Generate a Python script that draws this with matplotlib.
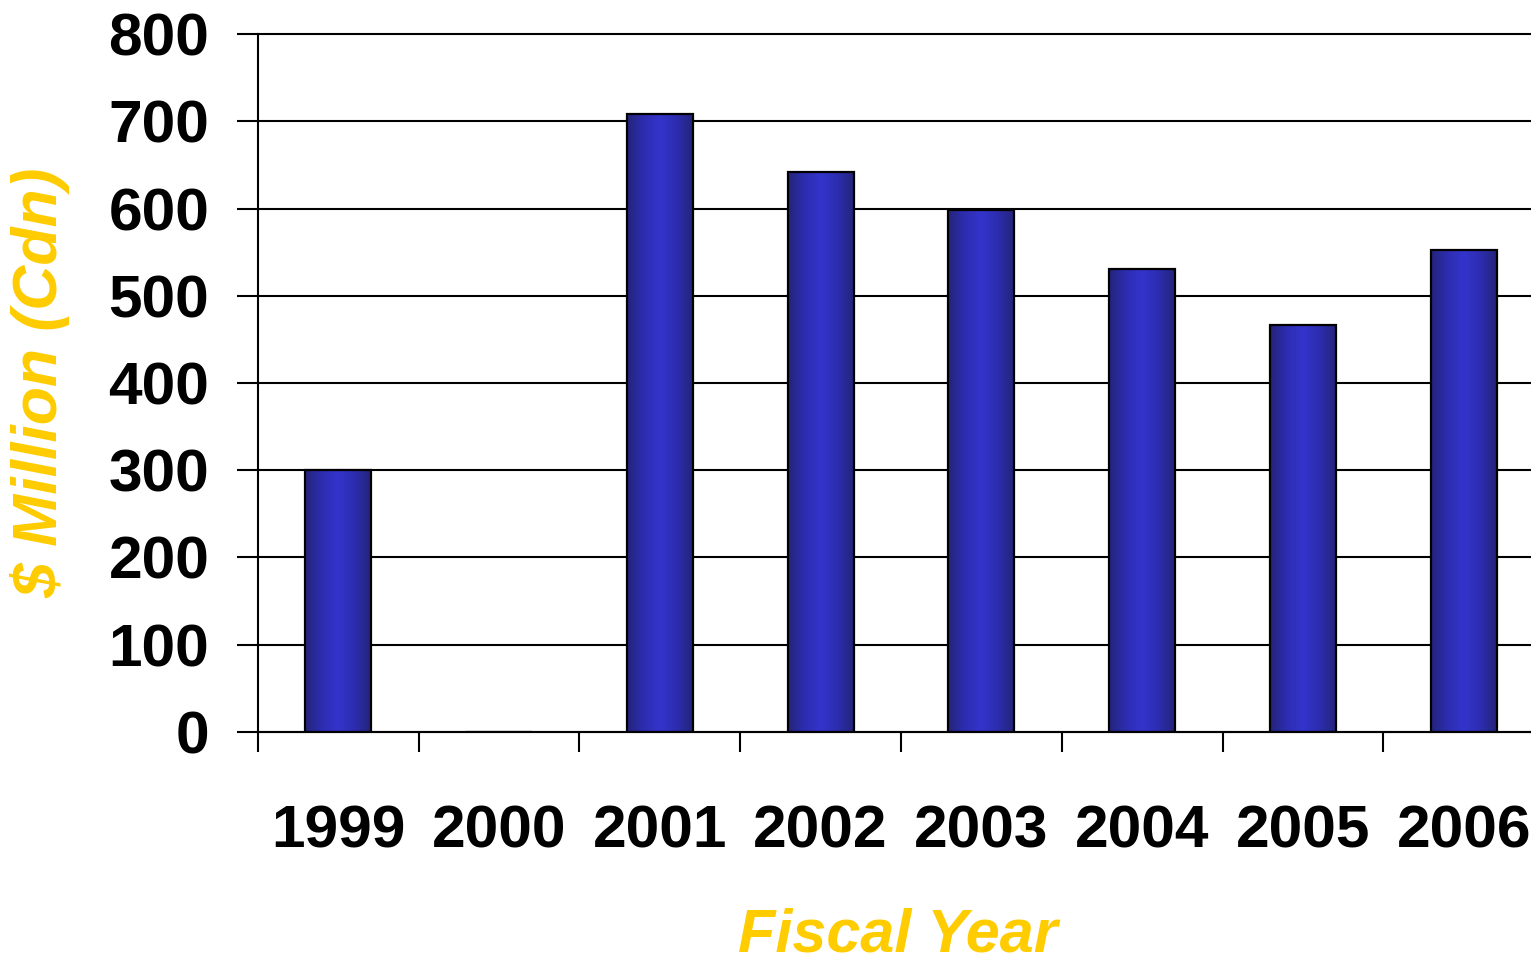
import matplotlib
matplotlib.use("Agg")
import matplotlib.pyplot as plt
import numpy as np
from matplotlib.colors import LinearSegmentedColormap

years = ["1999", "2000", "2001", "2002", "2003", "2004", "2005", "2006"]
spending = [300, 0, 708, 642, 598, 531, 466, 553]
y_ticks = [0, 100, 200, 300, 400, 500, 600, 700, 800]

plt.rcParams["font.family"] = ["Liberation Sans", "DejaVu Sans"]

fig = plt.figure(figsize=(15.31, 9.64), dpi=100)
ax = fig.add_axes([0.1685, 0.2407, 0.840, 0.724])

x = np.arange(len(years))
bars = ax.bar(x, spending, width=0.41, color="none", edgecolor="black",
              linewidth=1.6, zorder=3)

# horizontal shading: dark edges, bright middle
shade = LinearSegmentedColormap.from_list(
    "shade", ["#24247a", "#2d2db0", "#3434cc", "#2d2db0", "#24247a"])
grad = np.linspace(0, 1, 256).reshape(1, -1)
for b in bars:
    if b.get_height() <= 0:
        continue
    im = ax.imshow(grad, cmap=shade, aspect="auto", zorder=2,
                   extent=[b.get_x(), b.get_x() + b.get_width(), 0, b.get_height()])
    im.set_clip_path(b)

ax.set_xlim(-0.5, len(years) - 0.5)
ax.set_ylim(0, 800)
ax.set_yticks(y_ticks)
ax.set_yticklabels([str(v) for v in y_ticks], fontsize=43.5, fontweight="bold")
ax.set_xticks(x)
ax.set_xticklabels(years, fontsize=43.5, fontweight="bold")
ax.set_xticks(np.arange(len(years) + 1) - 0.5, minor=True)

ax.tick_params(axis="x", which="major", length=0, pad=52)
ax.tick_params(axis="x", which="minor", length=14.5, width=1.5, direction="out")
ax.tick_params(axis="y", length=15, width=1.5, pad=20)

ax.yaxis.grid(True, color="black", linewidth=1.5, zorder=1)
for gl in ax.get_ygridlines():
    gl.set_clip_on(False)
ax.set_axisbelow(True)

for s in ["top", "right"]:
    ax.spines[s].set_visible(False)
for s in ["left", "bottom"]:
    ax.spines[s].set_linewidth(1.5)

span_x = 1544 - 258
span_y = 732 - 34
ax.set_ylabel("$ Million (Cdn)", fontsize=45, fontweight="bold", style="italic",
              color="#ffcc00")
ax.yaxis.set_label_coords((40 - 258) / span_x, (732 - 383) / span_y)
ax.yaxis.label.set_verticalalignment("center")
ax.set_xlabel("Fiscal Year", fontsize=44, fontweight="bold", style="italic",
              color="#ffcc00")
ax.xaxis.set_label_coords((898 - 258) / span_x, -(936 - 732) / span_y)
ax.xaxis.label.set_verticalalignment("center")

fig.savefig("out.png", dpi=100)
